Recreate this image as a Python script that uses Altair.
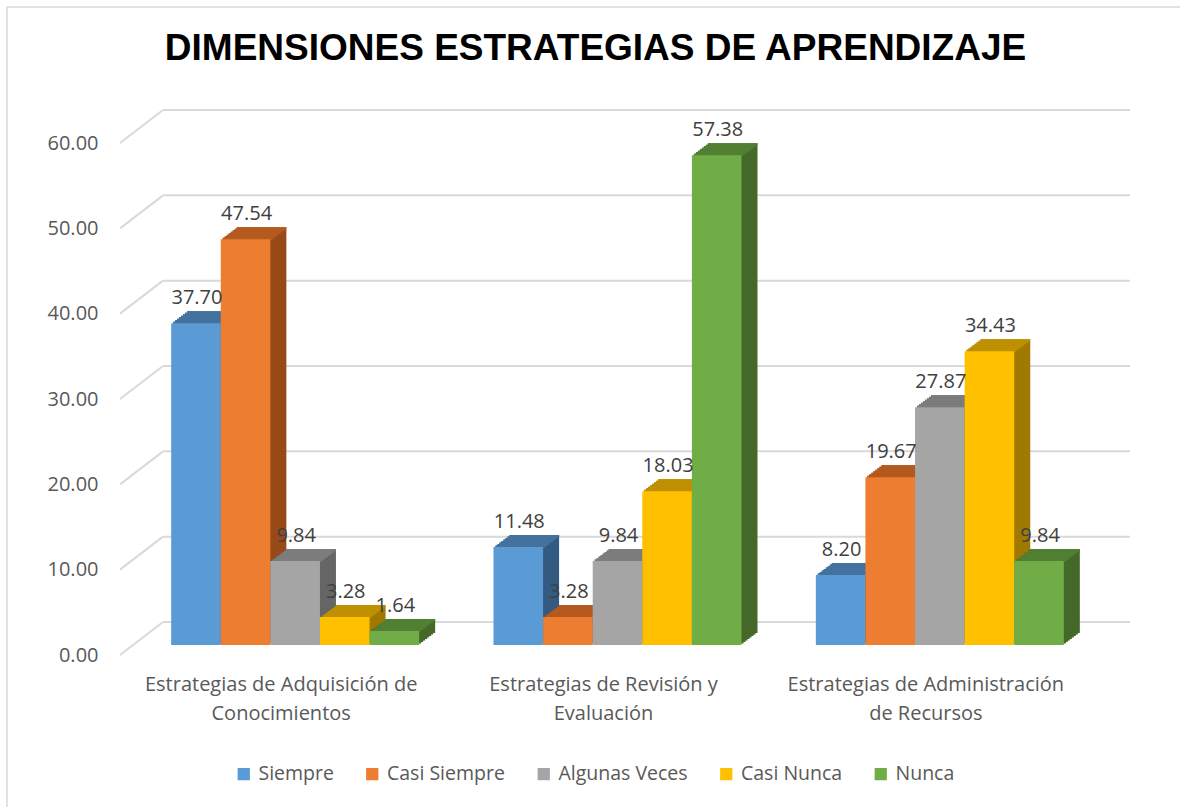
import altair as alt
import pandas as pd

# ---- data ----
categories = [
    "Estrategias de Adquisición de\nConocimientos",
    "Estrategias de Revisión y\nEvaluación",
    "Estrategias de Administración\nde Recursos",
]
series = ["Siempre", "Casi Siempre", "Algunas Veces", "Casi Nunca", "Nunca"]
siempre = [37.70, 11.48, 8.20]
casi_siempre = [47.54, 3.28, 19.67]
algunas_veces = [9.84, 9.84, 27.87]
casi_nunca = [3.28, 18.03, 34.43]
nunca = [1.64, 57.38, 9.84]
y_ticks = [0, 10, 20, 30, 40, 50, 60]

# ---- styles ----
front_colors = ["#5B9BD5", "#ED7D31", "#A5A5A5", "#FFC000", "#70AD47"]
top_colors = ["#44729E", "#B55A1E", "#7C7C7C", "#BF9000", "#528033"]
side_colors = ["#335A80", "#974A18", "#666666", "#A07900", "#44692A"]

values = [siempre, casi_siempre, algunas_veces, casi_nunca, nunca]
rows = []
for si, s in enumerate(series):
    for ci, c in enumerate(categories):
        rows.append({"category": c, "series": s, "value": values[si][ci],
                     "top": top_colors[si], "side": side_colors[si]})
df = pd.DataFrame(rows)
ticks_df = pd.DataFrame({"v": y_ticks})
one = pd.DataFrame({"k": [0]})

# ---- geometry ----
W, H = 967, 512
BAND = 248
BAR = BAND / len(series)
STEP = W / 3
PI = 1 - BAND / STEP
PO = PI / 2
SHIFT_X, SHIFT_Y = 14, 10
DEPTH_X, DEPTH_Y = 16, 12
WALL_X, WALL_Y = 43, 33
N = 8
FONT = "Open Sans"
FS = 20
GRID = "#D9D9D9"

x_axis = alt.Axis(title=None, labelAngle=0, labelFontSize=FS, labelFont=FONT,
                  labelColor="#595959", domain=False, ticks=False, grid=False,
                  labelPadding=19, labelLineHeight=29, labelLimit=600,
                  labelExpr="split(datum.label, '\\n')")
y_axis = alt.Axis(title=None, values=y_ticks, format=".2f", labelFontSize=FS,
                  labelFont=FONT, labelColor="#595959", domain=False,
                  ticks=False, grid=False, labelPadding=22)
y_scale = alt.Scale(domain=[0, 60], nice=False, zero=True)
x_scale = alt.Scale(domain=categories, paddingInner=PI, paddingOuter=PO)


def xenc():
    return alt.X("category:N", sort=categories, scale=x_scale, axis=x_axis)


def xoff(shift):
    return alt.XOffset("series:N", sort=series,
                       scale=alt.Scale(type="band", domain=series,
                                       range=[shift, shift + BAND],
                                       paddingInner=0, paddingOuter=0))


def xoff_center(shift):
    return alt.XOffset("series:N", sort=series,
                       scale=alt.Scale(type="point", domain=series,
                                       range=[shift + BAR / 2, shift + BAND - BAR / 2],
                                       padding=0))


base = alt.Chart(df)

layers = []
# back wall grid lines + diagonals
layers.append(alt.Chart(ticks_df).mark_rule(color=GRID, strokeWidth=2, yOffset=-WALL_Y).encode(
    y=alt.Y("v:Q", scale=y_scale, axis=y_axis),
    x=alt.value(WALL_X), x2=alt.value(W + WALL_X)))
layers.append(alt.Chart(ticks_df).mark_rule(color=GRID, strokeWidth=2, y2Offset=-WALL_Y).encode(
    y=alt.Y("v:Q", scale=y_scale, axis=y_axis), y2="v:Q",
    x=alt.value(0), x2=alt.value(WALL_X)))

# side faces (stacked shifted copies)
for k in range(N, 0, -1):
    dx = DEPTH_X * k / N
    dy = DEPTH_Y * k / N
    off = -(SHIFT_Y + dy)
    layers.append(base.mark_bar(yOffset=off, y2Offset=off).encode(
        x=xenc(), xOffset=xoff(SHIFT_X + dx),
        y=alt.Y("value:Q", scale=y_scale, axis=y_axis),
        color=alt.Color("side:N", scale=None)))
# top faces
for k in range(1, N + 1):
    dx = DEPTH_X * k / N
    dy = DEPTH_Y * k / N
    dyp = DEPTH_Y * (k - 1) / N
    layers.append(base.mark_bar(yOffset=-(SHIFT_Y + dy), y2Offset=-(SHIFT_Y + dyp) + 0.6).encode(
        x=xenc(), xOffset=xoff(SHIFT_X + dx),
        y=alt.Y("value:Q", scale=y_scale, axis=y_axis), y2="value:Q",
        color=alt.Color("top:N", scale=None)))
# front faces
layers.append(base.mark_bar(yOffset=-SHIFT_Y, y2Offset=-SHIFT_Y).encode(
    x=xenc(), xOffset=xoff(SHIFT_X),
    y=alt.Y("value:Q", scale=y_scale, axis=y_axis),
    color=alt.Color("series:N", sort=series,
                    scale=alt.Scale(domain=series, range=front_colors),
                    legend=alt.Legend(orient="none", legendX=114, legendY=621,
                                      direction="horizontal", title=None,
                                      symbolType="square", symbolSize=150,
                                      symbolStrokeWidth=0, labelFontSize=19.5,
                                      labelFont=FONT, labelColor="#595959",
                                      columnPadding=28.5, labelOffset=5, padding=0,
                                      labelLimit=300))))
# value labels (centred over each bar)
layers.append(base.mark_text(baseline="bottom", fontSize=FS, font=FONT, color="#404040",
                             dy=-(SHIFT_Y + DEPTH_Y + 3)).encode(
    x=xenc(), xOffset=xoff_center(SHIFT_X + 1),
    y=alt.Y("value:Q", scale=y_scale, axis=y_axis),
    text=alt.Text("value:Q", format=".2f")))
# chart border (top and left)
layers.append(alt.Chart(one).mark_rule(color=GRID, strokeWidth=1.5).encode(
    x=alt.value(-113), x2=alt.value(1060), y=alt.value(-136)))
layers.append(alt.Chart(one).mark_rule(color=GRID, strokeWidth=1.5).encode(
    x=alt.value(-113), y=alt.value(-136), y2=alt.value(664)))

chart = alt.layer(*layers).resolve_scale(xOffset="independent").properties(
    width=W, height=H,
    autosize=alt.AutoSizeParams(type="none"),
    padding={"left": 120, "top": 143, "right": 93, "bottom": 152},
    title=alt.TitleParams("DIMENSIONES ESTRATEGIAS DE APRENDIZAJE",
                          font="Liberation Sans", fontSize=37, fontWeight="bold",
                          color="#000000", anchor="middle", baseline="alphabetic",
                          offset=-91, dx=-8),
    background="white",
).configure_view(stroke=None)

chart.save("out.html", embed_options={"renderer": "svg", "actions": False})
